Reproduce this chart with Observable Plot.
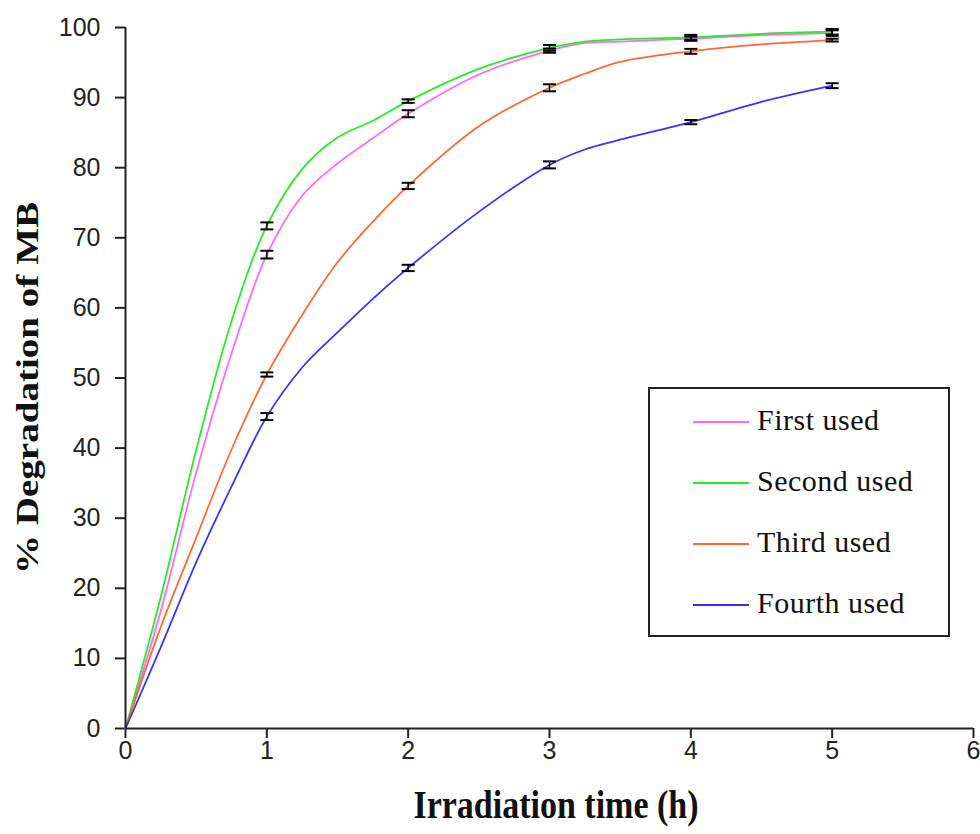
<!DOCTYPE html>
<html>
<head>
<meta charset="utf-8">
<script src="https://cdn.jsdelivr.net/npm/d3@7"></script>
<script src="https://cdn.jsdelivr.net/npm/@observablehq/plot@0.6"></script>
<style>
  html, body { margin: 0; padding: 0; background: #fff; overflow: hidden; }
  #wrap { position: relative; width: 980px; height: 834px; overflow: hidden; background: #fff; }
  #chart svg { display: block; }
  #chart [aria-label$="axis tick"], #chart .tick line { stroke-width: 2px; stroke: #222; }
  .ytitle {
    position: absolute; left: 27px; top: 388px;
    font: bold 31px "Liberation Serif", "Times New Roman", serif; line-height: 1;
    white-space: nowrap; color: #111;
    transform: translate(-50%, -50%) rotate(-90deg) scaleX(1.26);
  }
  .xtitle {
    position: absolute; left: 556px; top: 790px;
    font: bold 34px "Liberation Serif", "Times New Roman", serif; line-height: 1;
    white-space: nowrap; color: #111;
    transform-origin: 50% 28.5px;
    transform: translateX(-50%) scaleY(1.18);
  }
  .legend {
    position: absolute; left: 648px; top: 387px; width: 302px; height: 250px;
    box-sizing: border-box; border: 2px solid #222; background: #fff;
  }
  .legend .sw { position: absolute; left: 43px; width: 56px; height: 2px; }
  .legend .lb {
    position: absolute; left: 107px; white-space: nowrap; letter-spacing: 0.5px;
    font: 30px "Liberation Serif", "Times New Roman", serif; line-height: 1; color: #111;
  }
</style>
</head>
<body>
<div id="wrap">
  <div id="chart"></div>
</div>
<script>
// ---- data ----
const seriesNames  = ["First used", "Second used", "Third used", "Fourth used"];
const seriesColors = ["#ff66ff", "#22ee22", "#ff6633", "#3333ff"];

const times      = [0, 0.25, 0.5, 0.75, 1, 1.25, 1.5, 1.75, 2, 2.5, 3, 3.25, 3.5, 4, 4.5, 5];
const firstUsed  = [0, 16.8, 36.5, 53.5, 67.6, 76.0, 80.6, 84.2, 87.7, 93.3, 96.7, 97.8, 98.0, 98.4, 98.9, 99.2];
const secondUsed = [0, 18.8, 39.7, 58.1, 71.7, 79.8, 84.3, 86.7, 89.5, 94.1, 97.1, 98.0, 98.3, 98.6, 99.1, 99.4];
const thirdUsed  = [0, 14.5, 27.2, 39.8, 50.5, 59.0, 66.5, 72.3, 77.4, 85.9, 91.4, 93.4, 95.1, 96.6, 97.6, 98.2];
const fourthUsed = [0, 11.6, 23.7, 34.5, 44.5, 51.5, 56.5, 61.3, 65.7, 73.7, 80.4, 82.6, 84.0, 86.5, 89.4, 91.7];

const errTimes  = [1, 2, 3, 4, 5];
const firstErr  = [0.55, 0.5, 0.3, 0.3, 0.4];
const secondErr = [0.5, 0.25, 0.4, 0.35, 0.4];
const thirdErr  = [0.3, 0.45, 0.5, 0.35, 0.2];
const fourthErr = [0.5, 0.45, 0.5, 0.3, 0.35];

const xTicks = [0, 1, 2, 3, 4, 5, 6];
const yTicks = [0, 10, 20, 30, 40, 50, 60, 70, 80, 90, 100];

const xTitle = "Irradiation time (h)";
const yTitle = "% Degradation of MB";

// ---- build tables ----
const seriesValues = [firstUsed, secondUsed, thirdUsed, fourthUsed];
const seriesErrs   = [firstErr, secondErr, thirdErr, fourthErr];

const rows = [];
seriesNames.forEach((name, s) => {
  times.forEach((t, i) => rows.push({series: name, t, v: seriesValues[s][i]}));
});
const errRows = [];
seriesNames.forEach((name, s) => {
  errTimes.forEach((t, i) => {
    const v = seriesValues[s][times.indexOf(t)];
    const e = seriesErrs[s][i];
    errRows.push({series: name, t, lo: v - e, hi: v + e});
  });
});

// horizontal cap symbol for error bars
const capSymbol = {
  draw(ctx, size) {
    const w = Math.sqrt(size / Math.PI);
    ctx.moveTo(-w, 0);
    ctx.lineTo(w, 0);
  }
};

const chart = Plot.plot({
  width: 980,
  height: 834,
  marginLeft: 125,
  marginRight: 7,
  marginTop: 27,
  marginBottom: 106,
  style: {
    fontFamily: '"Liberation Sans", Arial, sans-serif',
    fontSize: "25px",
    color: "#222",
    background: "white",
    overflow: "visible"
  },
  x: {domain: [0, 6], ticks: xTicks, tickSize: 10, tickPadding: 3, label: null, tickFormat: d => String(d)},
  y: {domain: [0, 100], ticks: yTicks, tickSize: 10, tickPadding: 15, label: null, tickFormat: d => String(d)},
  color: {domain: seriesNames, range: seriesColors},
  marks: [
    Plot.line(rows, {x: "t", y: "v", z: "series", stroke: "series", strokeWidth: 1.75, curve: "catmull-rom"}),
    Plot.ruleX(errRows, {x: "t", y1: "lo", y2: "hi", stroke: "black", strokeWidth: 1.5}),
    Plot.dot(errRows, {x: "t", y: "lo", symbol: capSymbol, r: 6.5, stroke: "black", fill: "none", strokeWidth: 2}),
    Plot.dot(errRows, {x: "t", y: "hi", symbol: capSymbol, r: 6.5, stroke: "black", fill: "none", strokeWidth: 2}),
    Plot.ruleX([0], {stroke: "#222", strokeWidth: 2}),
    Plot.ruleY([0], {stroke: "#222", strokeWidth: 2})
  ]
});
document.getElementById("chart").appendChild(chart);

// ---- titles ----
const wrap = document.getElementById("wrap");
const yt = document.createElement("div");
yt.className = "ytitle";
yt.textContent = yTitle;
wrap.appendChild(yt);
const xt = document.createElement("div");
xt.className = "xtitle";
xt.textContent = xTitle;
wrap.appendChild(xt);

// ---- legend ----
const legend = document.createElement("div");
legend.className = "legend";
seriesNames.forEach((name, i) => {
  const sw = document.createElement("div");
  sw.className = "sw";
  sw.style.top = (32 + 61 * i) + "px";
  sw.style.background = seriesColors[i];
  legend.appendChild(sw);
  const lb = document.createElement("div");
  lb.className = "lb";
  lb.style.top = (16 + 61 * i) + "px";
  lb.textContent = name;
  legend.appendChild(lb);
});
wrap.appendChild(legend);
</script>
</body>
</html>
